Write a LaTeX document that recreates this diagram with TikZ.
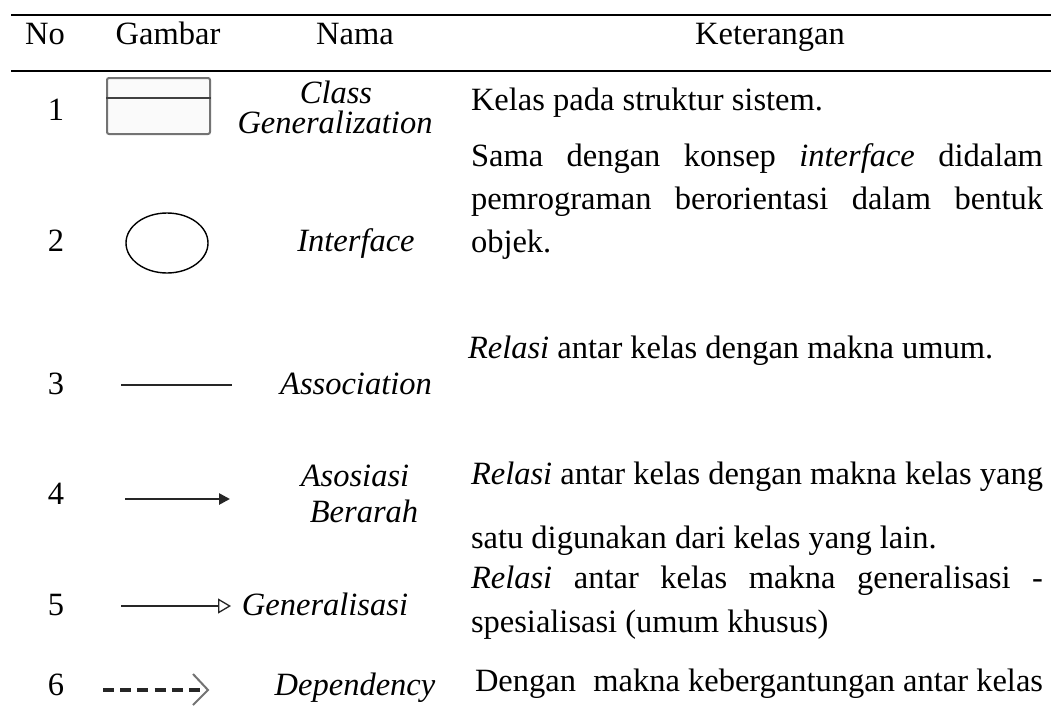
\documentclass[tikz,border=0pt]{standalone}
\usepackage{fontspec}
\setmainfont{Liberation Serif}
\usetikzlibrary{arrows.meta,shapes.geometric}
\begin{document}
\begin{tikzpicture}[x=1pt,y=-1pt,
  txt/.style={inner sep=0pt, outer sep=0pt, font=\fontsize{32.5}{38}\selectfont},
  lft/.style={txt, anchor=base west},
  ctr/.style={txt, anchor=base},
  nama/.style={txt, anchor=base, font=\fontsize{32.5}{38}\selectfont\itshape},
  rulel/.style={line width=2.6pt, black},
  sym/.style={line width=1.6pt, black!85}]
\useasboundingbox (0,0) rectangle (1051,707);
% header rules
\coordinate (r1l) at (11,15); \coordinate (r1r) at (1051,15);
\coordinate (r2l) at (11,71); \coordinate (r2r) at (1051,71);
\draw[rulel] (r1l) -- (r1r);
\draw[rulel] (r2l) -- (r2r);
% header
\node[ctr] (hNo) at (45,44) {No};
\node[ctr] (hGb) at (168,44) {Gambar};
\node[ctr] (hNm) at (355,44) {Nama};
\node[ctr] (hKt) at (770,44) {Keterangan};
% numbers
\node[ctr] (n1) at (56,120) {1};
\node[ctr] (n2) at (56,251) {2};
\node[ctr] (n3) at (56,394) {3};
\node[ctr] (n4) at (56,504) {4};
\node[ctr] (n5) at (56,615) {5};
\node[ctr] (n6) at (56,695) {6};
% names
\node[nama] (m1a) at (336,103) {Class};
\node[nama] (m1b) at (335,133) {Generalization};
\node[nama] (m2) at (356,251) {Interface};
\node[nama] (m3) at (356,394) {Association};
\node[nama] (m4a) at (355,486) {Asosiasi};
\node[nama] (m4b) at (364,522) {Berarah};
\node[nama] (m5) at (325,615) {Generalisasi};
\node[nama] (m6) at (355,695) {Dependency};
% symbols
\node[draw=black!55, line width=2pt, rounded corners=2pt, minimum width=103pt, minimum height=56pt, inner sep=0pt, fill=black!2] (cls) at (158.5,106) {};
\draw[line width=1.5pt, black!75] (cls.west |- 0,98) -- (cls.east |- 0,98);
\node[draw, line width=1.4pt, ellipse, minimum width=82pt, minimum height=60pt, inner sep=0pt] (ifc) at (167,243) {};
\coordinate (a3l) at (121,385); \coordinate (a3r) at (232,385);
\draw[sym] (a3l) -- (a3r);
\coordinate (a4l) at (125,499); \coordinate (a4r) at (230,499);
\draw[line width=2.6pt, black!85, -{Triangle[length=11pt,width=11pt]}] (a4l) -- (a4r);
\coordinate (a5l) at (121,606); \coordinate (a5r) at (232,606);
\draw[sym, -{Triangle[open,length=13pt,width=15pt,line width=1.3pt]}, shorten >=1pt] (a5l) -- (a5r);
\coordinate (a6l) at (103,690); \coordinate (a6r) at (200,690);
\draw[line width=4pt, black!85, dash pattern=on 11pt off 6.2pt] (a6l) -- (a6r);
\coordinate (c6a) at (193,674); \coordinate (c6b) at (208,690); \coordinate (c6c) at (193,705);
\draw[line width=2pt, black!55] (c6a) -- (c6b) -- (c6c);
% descriptions
\node[lft] (k1) at (471,110) {Kelas pada struktur sistem.};
\node[lft] (k2a) at (471,166) {\makebox[572pt][s]{Sama dengan konsep \textit{interface} didalam}};
\node[lft] (k2b) at (471,209) {\makebox[572pt][s]{pemrograman berorientasi dalam bentuk}};
\node[lft] (k2c) at (471,252) {objek.};
\node[lft] (k3) at (468,358) {\textit{Relasi} antar kelas dengan makna umum.};
\node[lft] (k4a) at (471,484) {\makebox[572pt][s]{\textit{Relasi} antar kelas dengan makna kelas yang}};
\node[lft] (k4b) at (471,548) {satu digunakan dari kelas yang lain.};
\node[lft] (k5a) at (471,588) {\makebox[572pt][s]{\textit{Relasi} antar kelas makna generalisasi -}};
\node[lft] (k5b) at (471,632) {spesialisasi (umum khusus)};
\node[lft] (k6) at (475,691) {\makebox[568pt]{Dengan\hfill makna kebergantungan antar kelas}};
\end{tikzpicture}
\end{document}
